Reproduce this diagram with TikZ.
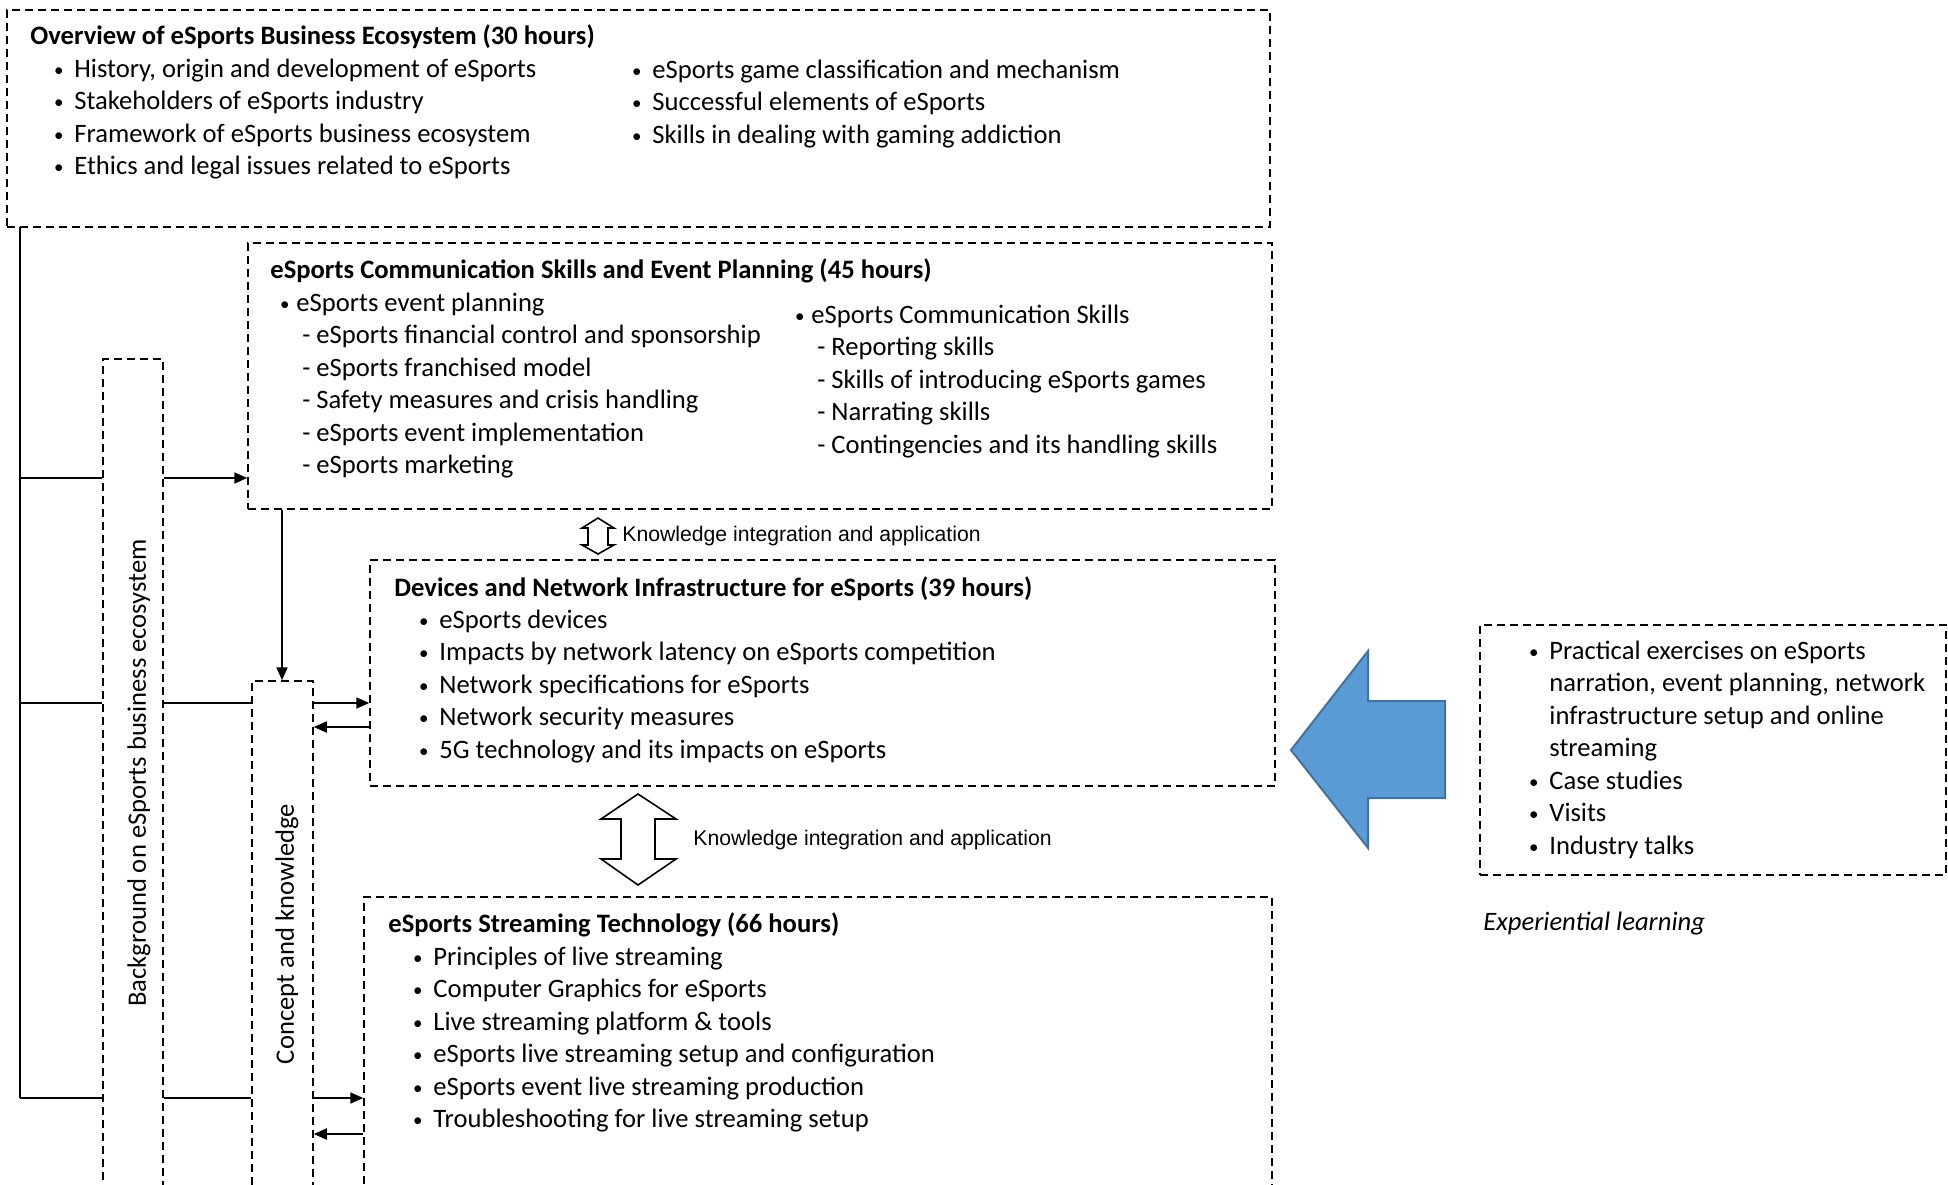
\documentclass[tikz,border=0pt]{standalone}
\usepackage{fontspec}
\setmainfont{Carlito}
\newfontfamily\arialfont{Liberation Sans}
\usepackage{tikz}
\usetikzlibrary{arrows.meta}
\usetikzlibrary{fit}
\definecolor{arrowblue}{HTML}{5B9BD5}
\definecolor{arrowedge}{HTML}{41719C}
\newcommand{\bul}{\hspace{-1.6pt}\raisebox{0.5pt}{\fontsize{9.5}{9.5}\selectfont\textbullet}}
\newcommand{\itm}[1]{\makebox[8.5pt][l]{\bul}#1}
\newcommand{\topitm}[1]{\makebox[6.5pt][l]{\bul}#1}
\newcommand{\subitm}[1]{\hspace{9.5pt}\makebox[7pt][l]{-}#1}
\newcommand{\hang}[1]{\hspace{8.5pt}#1}

\begin{document}
\begin{tikzpicture}[x=0.5pt,y=-0.5pt,
    dbox/.style={draw,line width=0.75pt,dash pattern=on 4pt off 2.5pt,inner sep=0pt},
    txt/.style={anchor=base west,inner sep=0pt,font=\fontsize{13.3}{16.25}\selectfont},
    head/.style={txt,font=\fontsize{13.3}{16.25}\selectfont\bfseries},
    side/.style={inner sep=0pt,rotate=90,font=\fontsize{13.3}{15}\selectfont},
    ktxt/.style={anchor=west,inner sep=0pt,font=\arialfont\fontsize{10.6}{12}\selectfont},
    line/.style={line width=0.9pt},
    arr/.style={line width=0.9pt,-{Triangle[length=6.5pt,width=5.5pt]}}]
\useasboundingbox (0,0) rectangle (1948,1184);
\clip (0,0) rectangle (1948,1184);

\node[dbox,fit={(7,10) (1270,227)}] (ovw) {};
\node[dbox,fit={(248,243) (1272,509)}] (comm) {};
\node[dbox,fit={(370,560) (1275,786)}] (dev) {};
\node[dbox,fit={(364,897) (1272,1220)}] (strm) {};
\node[dbox,fit={(1480,625) (1946,875)}] (exp) {};
\node[dbox,fit={(103,359) (163,1220)}] (bg) {};
\node[dbox,fit={(252,681) (313,1220)}] (ckn) {};

\node[head] (ovwtitle) at (30,44) {Overview of eSports Business Ecosystem (30 hours)};
\node[txt] (ovwleft) at (57,77) {\begin{tabular}[t]{@{}l@{}}
\itm{History, origin and development of eSports}\\
\itm{Stakeholders of eSports industry}\\
\itm{Framework of eSports business ecosystem}\\
\itm{Ethics and legal issues related to eSports}
\end{tabular}};
\node[txt] (ovwright) at (635,78) {\begin{tabular}[t]{@{}l@{}}
\itm{eSports game classification and mechanism}\\
\itm{Successful elements of eSports}\\
\itm{Skills in dealing with gaming addiction}
\end{tabular}};

\node[head] (commtitle) at (270,278) {eSports Communication Skills and Event Planning (45 hours)};
\node[txt] (commleft) at (283,311) {\begin{tabular}[t]{@{}l@{}}
\topitm{eSports event planning}\\
\subitm{eSports financial control and sponsorship}\\
\subitm{eSports franchised model}\\
\subitm{Safety measures and crisis handling}\\
\subitm{eSports event implementation}\\
\subitm{eSports marketing}
\end{tabular}};
\node[txt] (commright) at (798,323) {\begin{tabular}[t]{@{}l@{}}
\topitm{eSports Communication Skills}\\
\subitm{Reporting skills}\\
\subitm{Skills of introducing eSports games}\\
\subitm{Narrating skills}\\
\subitm{Contingencies and its handling skills}
\end{tabular}};

\node[head] (devtitle) at (394,596) {Devices and Network Infrastructure for eSports (39 hours)};
\node[txt] (devlist) at (422,628) {\begin{tabular}[t]{@{}l@{}}
\itm{eSports devices}\\
\itm{Impacts by network latency on eSports competition}\\
\itm{Network specifications for eSports}\\
\itm{Network security measures}\\
\itm{5G technology and its impacts on eSports}
\end{tabular}};

\node[head] (strmtitle) at (388,932) {eSports Streaming Technology (66 hours)};
\node[txt] (strmlist) at (416,965) {\begin{tabular}[t]{@{}l@{}}
\itm{Principles of live streaming}\\
\itm{Computer Graphics for eSports}\\
\itm{Live streaming platform \& tools}\\
\itm{eSports live streaming setup and configuration}\\
\itm{eSports event live streaming production}\\
\itm{Troubleshooting for live streaming setup}
\end{tabular}};

\node[txt] (explist) at (1532,659) {\begin{tabular}[t]{@{}l@{}}
\itm{Practical exercises on eSports}\\
\hang{narration, event planning, network}\\
\hang{infrastructure setup and online}\\
\hang{streaming}\\
\itm{Case studies}\\
\itm{Visits}\\
\itm{Industry talks}
\end{tabular}};
\node[txt,font=\fontsize{13.3}{16.25}\selectfont\itshape] (explabel) at (1483,930) {Experiential learning};

\node[side] (bgtext) at (139,773) {Background on eSports business ecosystem};
\node[side] (ckntext) at (287,934) {Concept and knowledge};

\draw[line width=0.8pt] (598,518) -- (614,528) -- (608,528) -- (608,545) -- (614,545) -- (598,554)
  -- (582,545) -- (588,545) -- (588,528) -- (582,528) -- cycle;
\node[ktxt] (know1) at (622,536) {Knowledge integration and application};
\draw[line width=0.8pt] (638,794) -- (676,819) -- (655,819) -- (655,859) -- (676,859) -- (638,885)
  -- (601,859) -- (621,859) -- (621,819) -- (601,819) -- cycle;
\node[ktxt] (know2) at (693,840) {Knowledge integration and application};

\draw[fill=arrowblue,draw=arrowedge,line width=1pt] (1291,750) -- (1368,651) -- (1368,701)
  -- (1445,701) -- (1445,798) -- (1368,798) -- (1368,848) -- cycle;

\coordinate (trunktop) at (20,227);
\coordinate (trunkbot) at (20,1098);
\coordinate (r1) at (20,478);
\coordinate (r2) at (20,703);
\coordinate (r3) at (20,727);
\coordinate (r4) at (20,1134);
\coordinate (c1) at (282,0);
\draw[line] (trunktop) -- (trunkbot);
\draw[line] (r1) -- (bg.west |- r1);
\draw[line] (r2) -- (bg.west |- r2);
\draw[line] (trunkbot) -- (bg.west |- trunkbot);
\draw[arr] (bg.east |- r1) -- (comm.west |- r1);
\draw[line] (bg.east |- r2) -- (ckn.west |- r2);
\draw[line] (bg.east |- trunkbot) -- (ckn.west |- trunkbot);
\draw[arr] (comm.south -| c1) -- (ckn.north -| c1);
\draw[arr] (ckn.east |- r2) -- (dev.west |- r2);
\draw[arr] (dev.west |- r3) -- (ckn.east |- r3);
\draw[arr] (ckn.east |- trunkbot) -- (strm.west |- trunkbot);
\draw[arr] (strm.west |- r4) -- (ckn.east |- r4);
\end{tikzpicture}
\end{document}
